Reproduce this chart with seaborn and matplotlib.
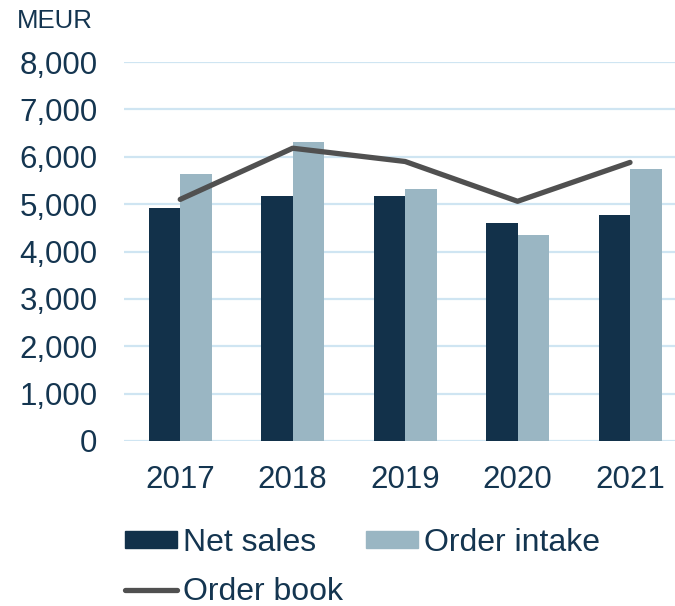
import numpy as np
import pandas as pd
import matplotlib
matplotlib.use('Agg')
import matplotlib.pyplot as plt
import seaborn as sns

# Data (MEUR)
years = ['2017', '2018', '2019', '2020', '2021']
net_sales = [4920, 5180, 5170, 4600, 4780]
order_intake = [5640, 6310, 5320, 4350, 5740]
order_book = [5100, 6180, 5900, 5060, 5880]

df = pd.DataFrame({
    'Year': years * 2,
    'Value': net_sales + order_intake,
    'Series': ['Net sales'] * len(years) + ['Order intake'] * len(years),
})

text_col = '#143550'
sns.set_style('white')
plt.rcParams['font.family'] = ['Liberation Sans', 'DejaVu Sans']

fig = plt.figure(figsize=(6.75, 6.06), dpi=100)
ax = fig.add_axes([124 / 675, (606 - 441) / 606, 1 - 124 / 675, (441 - 62) / 606])

sns.barplot(data=df, x='Year', y='Value', hue='Series',
            palette=['#12314a', '#9ab6c3'], width=0.56, saturation=1,
            linewidth=0, ax=ax, legend=False, zorder=2)
ax.plot(np.arange(len(years)), order_book, color='#505050', lw=3.8,
        solid_capstyle='round', zorder=3)

ax.set_ylim(0, 8000)
ax.set_xlim(-0.5, 4.4)
ax.set_yticks(range(0, 8001, 1000))
ax.set_yticklabels([f'{v:,}' for v in range(0, 8001, 1000)])
ax.yaxis.grid(True, color='#cfe5f2', lw=1.6, zorder=0)
ax.set_axisbelow(True)
ax.tick_params(axis='both', length=0, labelsize=22.5, colors=text_col)
ax.tick_params(axis='y', pad=19)
ax.tick_params(axis='x', pad=17)
ax.set_xlabel('')
ax.set_ylabel('')
for s in ax.spines.values():
    s.set_visible(False)

fig.text(17 / 675, 1 - 21 / 606, 'MEUR', fontsize=18.5, color=text_col,
         ha='left', va='center')

# legend: Net sales | Order intake / Order book
h_ns = plt.Rectangle((0, 0), 1, 1, color='#12314a')
h_oi = plt.Rectangle((0, 0), 1, 1, color='#9ab6c3')
h_ob = plt.Line2D([0], [0], color='#505050', lw=3.8, solid_capstyle='round')
leg = fig.legend([h_ns, h_ob, h_oi], ['Net sales', 'Order book', 'Order intake'],
                 ncol=2, loc='upper left', bbox_to_anchor=(125 / 675, 1 - 528 / 606),
                 frameon=False, fontsize=23, handlelength=1.63, handleheight=0.47,
                 handletextpad=0.19, columnspacing=0.7, labelspacing=0.61,
                 borderpad=0, borderaxespad=0)
for t in leg.get_texts():
    t.set_color(text_col)

fig.savefig('out.png', dpi=100)
